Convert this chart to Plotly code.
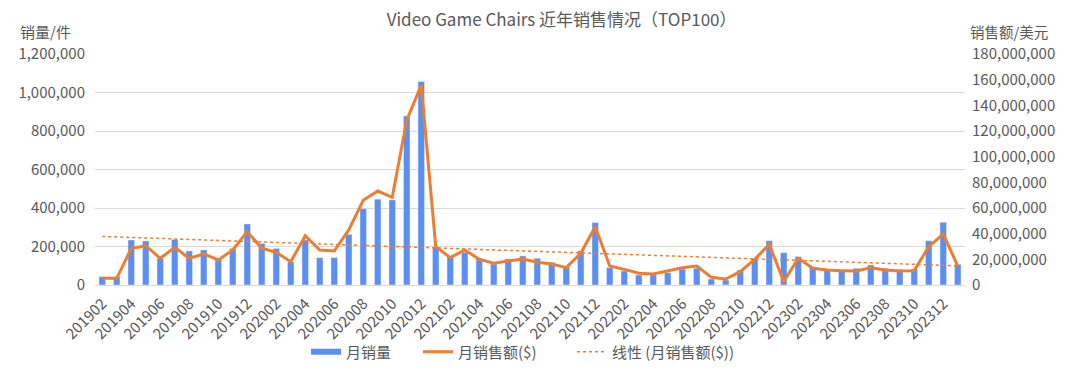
import numpy as np
import plotly.graph_objects as go

months = [f"{y}{m:02d}" for y in range(2019, 2025) for m in range(1, 13)]
months = months[months.index("201902"):months.index("202401") + 1]

units = [43000, 43000, 234000, 229000, 139000, 237000, 177000, 182000, 133000, 190000,
         317000, 216000, 190000, 121000, 234000, 142000, 142000, 263000, 397000, 446000,
         442000, 878000, 1057000, 199000, 147000, 170000, 139000, 109000, 135000, 151000,
         139000, 118000, 95000, 178000, 324000, 90000, 73000, 52000, 52000, 64000,
         83000, 87000, 31000, 26000, 78000, 139000, 230000, 168000, 147000, 92000,
         78000, 73000, 87000, 104000, 87000, 81000, 83000, 230000, 326000, 107000]

revenue = [5.2e6, 5.2e6, 28.6e6, 30.6e6, 20.8e6, 29.3e6, 20.8e6, 24.2e6, 19.5e6, 27.3e6,
           41.6e6, 28.6e6, 25.5e6, 18.2e6, 38.4e6, 27.3e6, 26.5e6, 42.9e6, 66.0e6, 73.2e6,
           68.3e6, 128.5e6, 155.8e6, 29.9e6, 21.3e6, 27.3e6, 20.0e6, 16.9e6, 18.7e6, 20.3e6,
           17.7e6, 16.4e6, 13.5e6, 24.7e6, 45.4e6, 14.8e6, 12.2e6, 9.1e6, 8.6e6, 11.2e6,
           13.5e6, 14.8e6, 6.0e6, 4.7e6, 10.4e6, 20.0e6, 31.7e6, 2.6e6, 20.8e6, 13.0e6,
           11.7e6, 11.2e6, 10.9e6, 13.5e6, 11.7e6, 10.9e6, 11.2e6, 29.9e6, 39.7e6, 14.8e6]

tick_labels = months[::2]

# linear trend of revenue
idx = np.arange(len(revenue))
slope, intercept = np.polyfit(idx, revenue, 1)
trend = slope * idx + intercept

FONT = "Noto Sans CJK SC, Microsoft YaHei, sans-serif"
GRAY = "#595959"
BLUE = "#5B8FF2"
ORANGE = "#ED7D31"

fig = go.Figure()
fig.add_trace(go.Bar(x=months, y=units, name="月销量", marker_color=BLUE, yaxis="y",
                     legendgroup="units", showlegend=False))
# legend swatch for the bars (no data, legend only)
fig.add_trace(go.Scatter(x=[None], y=[None], name="月销量", mode="lines",
                         line=dict(color=BLUE, width=6), legendgroup="units",
                         legend="legend"))
fig.add_trace(go.Scatter(x=months, y=revenue, name="月销售额($)", mode="lines",
                         line=dict(color=ORANGE, width=3), yaxis="y2", legend="legend2"))
fig.add_trace(go.Scatter(x=months, y=trend, name="线性 (月销售额($))", mode="lines",
                         line=dict(color=ORANGE, width=1.5, dash="dot"), yaxis="y2",
                         legend="legend3"))

LEG_Y = 1 - 352 / 376


def leg(px):
    return dict(orientation="h", x=px / 1080, xanchor="left", xref="container",
                yref="container", y=LEG_Y, yanchor="middle",
                font=dict(size=15, color=GRAY), bgcolor="rgba(0,0,0,0)")


fig.update_layout(
    width=1080, height=376,
    margin=dict(l=95, r=115, t=54, b=91, autoexpand=False),
    paper_bgcolor="white", plot_bgcolor="white",
    font=dict(family=FONT, color=GRAY, size=14),
    title=dict(text="Video Game Chairs 近年销售情况（TOP100）", x=0.52, xanchor="center",
               y=1 - 20 / 376, yanchor="middle", font=dict(size=17, color=GRAY)),
    bargap=0.55,
    showlegend=True,
    legend=leg(306),
    legend2=leg(418),
    legend3=leg(572),
    xaxis=dict(type="category", tickmode="array", tickvals=tick_labels, ticktext=tick_labels,
               tickangle=-45, tickfont=dict(size=15), showgrid=False, automargin=False,
               showline=True, linecolor="#D9D9D9", ticks="", ticklabelstandoff=3),
    yaxis=dict(range=[0, 1200000], dtick=200000, tickformat=",", showgrid=True,
               gridcolor="#D9D9D9", zeroline=False, tickfont=dict(size=15),
               automargin=False, ticklabelstandoff=9),
    yaxis2=dict(range=[0, 180000000], dtick=20000000, tickformat=",", overlaying="y",
                side="right", showgrid=False, zeroline=False, tickfont=dict(size=15),
                automargin=False, ticklabelstandoff=6),
    annotations=[
        dict(text="销量/件", xref="paper", yref="paper", x=-0.088, y=(285 - 32) / 231,
             xanchor="left", yanchor="middle", showarrow=False,
             font=dict(size=15, color=GRAY)),
        dict(text="销售额/美元", xref="paper", yref="paper", x=1.003, y=(285 - 32) / 231,
             xanchor="left", yanchor="middle", showarrow=False,
             font=dict(size=14.5, color=GRAY)),
    ],
)

fig.write_html("out.html", post_script="document.body.style.margin='0';",
               config={"displayModeBar": False})
